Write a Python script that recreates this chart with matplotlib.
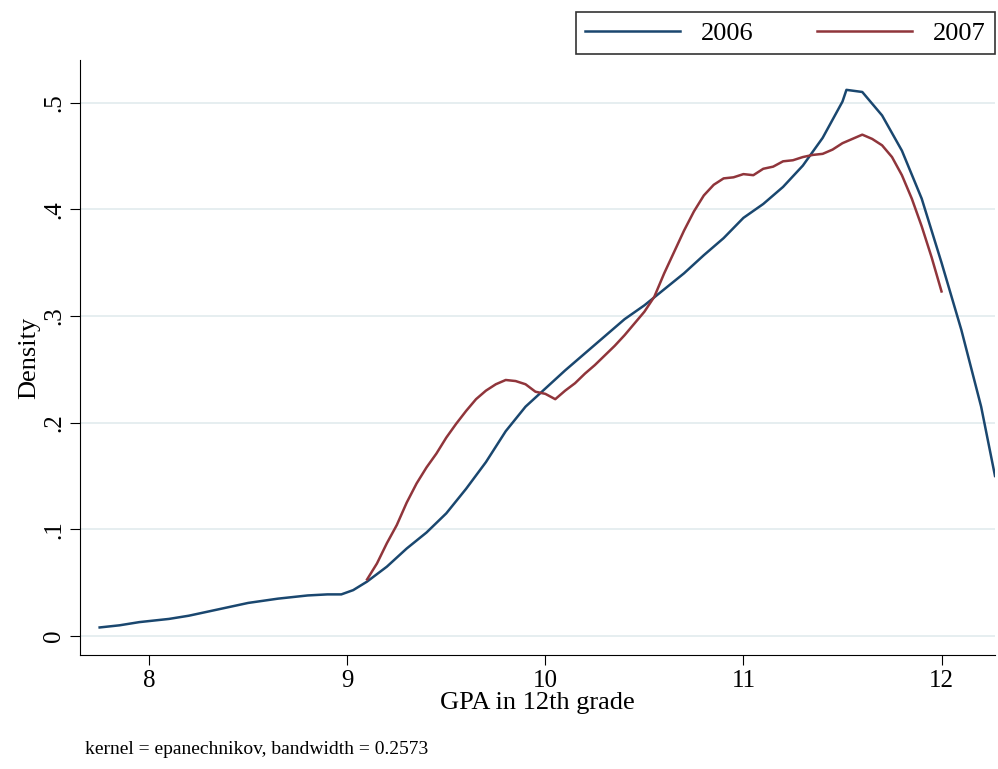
import matplotlib
matplotlib.use("Agg")
import matplotlib.pyplot as plt

plt.rcParams['font.family'] = ['Liberation Serif', 'DejaVu Serif']

x2006 = [7.75, 7.85, 7.95, 8.1, 8.2, 8.35, 8.5, 8.65, 8.8, 8.9, 8.97, 9.03, 9.1, 9.2, 9.3, 9.4,
         9.5, 9.6, 9.7, 9.8, 9.9, 10.0, 10.1, 10.2, 10.3, 10.4, 10.5, 10.6, 10.7, 10.8, 10.9,
         11.0, 11.1, 11.2, 11.3, 11.4, 11.5, 11.52, 11.6, 11.7, 11.8, 11.9, 12.0, 12.1, 12.2, 12.27]
y2006 = [.008, .010, .013, .016, .019, .025, .031, .035, .038, .039, .039, .043, .051, .065, .082, .097,
         .115, .138, .163, .192, .215, .232, .249, .265, .281, .297, .310, .325, .340, .357, .373,
         .392, .405, .421, .441, .467, .501, .512, .510, .488, .455, .410, .350, .287, .215, .150]

x2007 = [9.1, 9.15, 9.2, 9.25, 9.3, 9.35, 9.4, 9.45, 9.5, 9.55, 9.6, 9.65, 9.7, 9.75, 9.8, 9.85,
         9.9, 9.95, 10.0, 10.05, 10.1, 10.15, 10.2, 10.25, 10.3, 10.35, 10.4, 10.45, 10.5, 10.55,
         10.6, 10.65, 10.7, 10.75, 10.8, 10.85, 10.9, 10.95, 11.0, 11.05, 11.1, 11.15, 11.2, 11.25,
         11.3, 11.35, 11.4, 11.45, 11.5, 11.55, 11.6, 11.65, 11.7, 11.75, 11.8, 11.85, 11.9, 11.95, 12.0]
y2007 = [.053, .068, .087, .104, .125, .143, .158, .171, .186, .199, .211, .222, .230, .236, .240, .239,
         .236, .229, .227, .222, .230, .237, .246, .254, .263, .272, .282, .293, .304, .318,
         .340, .360, .380, .398, .413, .423, .429, .430, .433, .432, .438, .440, .445, .446,
         .449, .451, .452, .456, .462, .466, .470, .466, .460, .449, .432, .410, .384, .355, .323]

yticks = [0, .1, .2, .3, .4, .5]
ylabels = ['0', '.1', '.2', '.3', '.4', '.5']
xticks = [8, 9, 10, 11, 12]

fig = plt.figure(figsize=(9.98, 7.69), dpi=100)
ax = fig.add_axes([0.080, 0.148, 0.917, 0.774])
ax.plot(x2006, y2006, color='#1a476f', lw=1.8, label='2006')
ax.plot(x2007, y2007, color='#90353b', lw=1.8, label='2007')
ax.set_xlim(7.65, 12.27)
ax.set_ylim(-0.018, 0.54)
ax.set_yticks(yticks)
ax.set_yticklabels(ylabels, rotation=90, va='center')
ax.set_xticks(xticks)
ax.tick_params(labelsize=18, length=7)
ax.grid(axis='y', color='#e6eef0', lw=1.4)
ax.set_axisbelow(True)
for s in ['top', 'right']:
    ax.spines[s].set_visible(False)
ax.set_xlabel('GPA in 12th grade', fontsize=19, labelpad=0)
ax.set_ylabel('Density', fontsize=19, labelpad=2)
leg = ax.legend(loc='lower right', bbox_to_anchor=(1.0, 1.01), ncol=2, fontsize=19,
                frameon=True, fancybox=False, edgecolor='black', handlelength=3.6,
                columnspacing=2.4, borderaxespad=0, borderpad=0.35)
leg.get_frame().set_linewidth(1.2)
fig.text(0.085, 0.020, 'kernel = epanechnikov, bandwidth = 0.2573', fontsize=14)
fig.savefig('out.png')
